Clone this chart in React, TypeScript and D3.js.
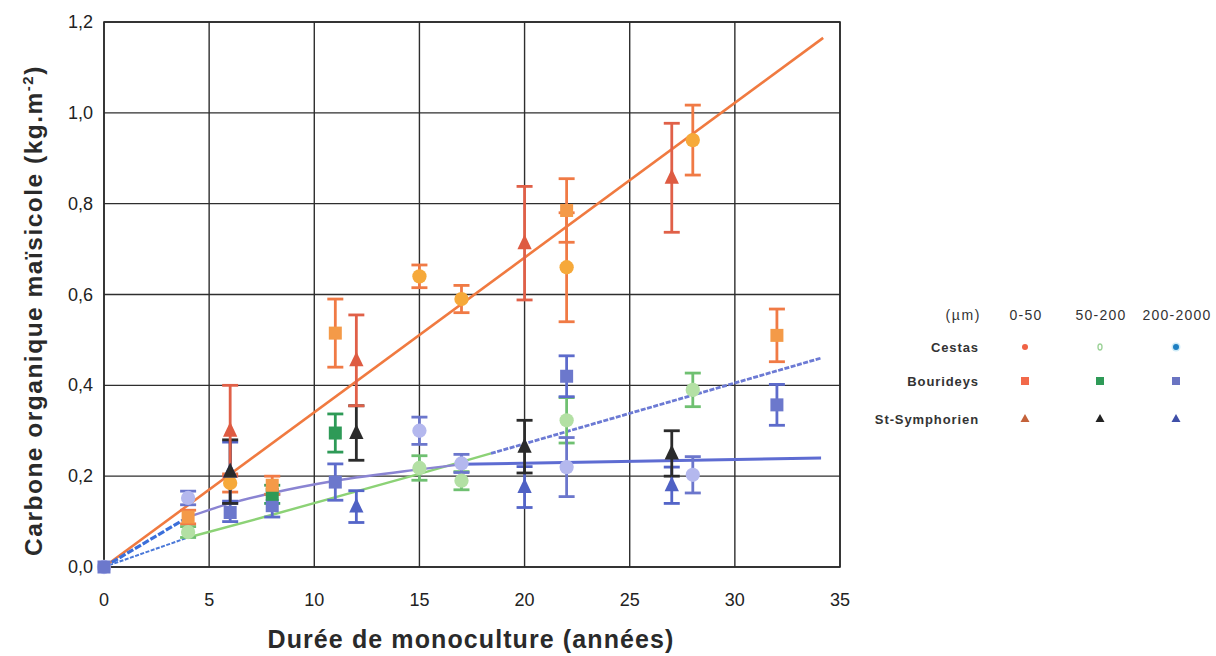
import React from "react";
import * as d3 from "d3";

// ---------- data ----------
const xTicks = [0, 5, 10, 15, 20, 25, 30, 35];
const yTicks = [0, 0.2, 0.4, 0.6, 0.8, 1.0, 1.2];
const sizeClasses = ["0-50", "50-200", "200-2000"];
const sites = ["Cestas", "Bourideys", "St-Symphorien"];

// [year, value, error]
const cestas050 = [[6, 0.185, 0.02], [15, 0.64, 0.025], [17, 0.59, 0.03], [22, 0.66, 0.12], [28, 0.94, 0.077]];
const bourideys050 = [[4, 0.11, 0.015], [8, 0.18, 0.02], [11, 0.515, 0.075], [22, 0.785, 0.07], [32, 0.51, 0.058]];
const stsym050 = [[6, 0.30, 0.1], [12, 0.455, 0.1], [20, 0.713, 0.125], [27, 0.857, 0.12]];
const cestas50200 = [[4, 0.077, 0.012], [15, 0.218, 0.027], [17, 0.19, 0.02], [22, 0.323, 0.05], [28, 0.39, 0.037]];
const bourideys50200 = [[8, 0.16, 0.02], [11, 0.295, 0.042]];
const stsym50200 = [[6, 0.21, 0.07], [12, 0.295, 0.06], [20, 0.265, 0.058], [27, 0.25, 0.05]];
const cestas2002000 = [[0, 0.0, 0.0], [4, 0.152, 0.015], [15, 0.30, 0.03], [17, 0.228, 0.02], [22, 0.22, 0.065], [28, 0.203, 0.04]];
const bourideys2002000 = [[0, 0.0, 0.0], [6, 0.12, 0.02], [8, 0.135, 0.025], [11, 0.187, 0.04], [22, 0.42, 0.045], [32, 0.357, 0.045]];
const stsym2002000 = [[6, 0.21, 0.065], [12, 0.133, 0.035], [20, 0.176, 0.045], [27, 0.18, 0.04]];

// trend lines [year, value]
const trend050 = [[0, 0], [34.2, 1.165]];
const trend50200Origin = [[0, 0], [4, 0.065]];
const trend50200Green = [[4, 0.065], [8, 0.115], [15, 0.205], [18.4, 0.25]];
const trend50200Blue = [[18.4, 0.25], [34.1, 0.46]];
const trend2002000Origin = [[0, 0], [4, 0.11]];
const trend2002000Purple = [[4, 0.11], [6, 0.14], [8, 0.163], [11, 0.19], [15, 0.215], [17, 0.226]];
const trend2002000Blue = [[17, 0.226], [34.1, 0.24]];

// ---------- layout / style ----------
const W = 1216, H = 656;
const PL = 104, PR = 840, PT = 22, PB = 567;
const FONT = "'Liberation Sans', Arial, Helvetica, sans-serif";

type Series = { data: number[][]; shape: "circle" | "square" | "triangle"; fill: string; err: string };

const series: Series[] = [
  { data: cestas50200, shape: "circle", fill: "#B3E0A4", err: "#6FC071" },
  { data: cestas2002000, shape: "circle", fill: "#B4B8EE", err: "#6B76CC" },
  { data: bourideys2002000, shape: "square", fill: "#6C78CC", err: "#5D6BCB" },
  { data: bourideys50200, shape: "square", fill: "#2E9A57", err: "#2E9A57" },
  { data: bourideys050, shape: "square", fill: "#F49A48", err: "#F07A45" },
  { data: cestas050, shape: "circle", fill: "#F6A93A", err: "#F07A45" },
  { data: stsym2002000, shape: "triangle", fill: "#4F61C4", err: "#5465C8" },
  { data: stsym50200, shape: "triangle", fill: "#2B2B2B", err: "#2B2B2B" },
  { data: stsym050, shape: "triangle", fill: "#DE5B42", err: "#E06048" },
];

function Marker({ shape, x, y, fill, size }: { shape: string; x: number; y: number; fill: string; size: number }) {
  if (shape === "circle") return <circle cx={x} cy={y} r={size * 0.55} fill={fill} />;
  if (shape === "square") return <rect x={x - size / 2} y={y - size / 2} width={size} height={size} fill={fill} />;
  const h = size * 1.15;
  return <path d={`M${x},${y - h * 0.6}L${x + size * 0.55},${y + h * 0.4}L${x - size * 0.55},${y + h * 0.4}Z`} fill={fill} />;
}

export default function App() {
  const x = d3.scaleLinear().domain([0, 35]).range([PL, PR]);
  const y = d3.scaleLinear().domain([0, 1.2]).range([PB, PT]);
  const straight = d3.line<number[]>().x(d => x(d[0])).y(d => y(d[1]));
  const smooth = d3.line<number[]>().x(d => x(d[0])).y(d => y(d[1])).curve(d3.curveMonotoneX);
  const fmt = (v: number) => v.toFixed(1).replace(".", ",");

  const legX = [1025, 1100, 1176];
  const legY = [347, 381, 419];
  const legendMarks = [
    [{ s: "circle", f: "#F06245" }, { s: "ring", f: "#9ED39A" }, { s: "dot", f: "#1E7FC2" }],
    [{ s: "square", f: "#F2694A" }, { s: "square", f: "#2E9A57" }, { s: "square", f: "#6A74C2" }],
    [{ s: "triangle", f: "#C4623A" }, { s: "triangle", f: "#222" }, { s: "triangle", f: "#3F4FA8" }],
  ];

  return (
    <svg width={W} height={H} style={{ position: "absolute", left: 0, top: 0, background: "#fff" }} fontFamily={FONT}>
      {/* grid */}
      {xTicks.map(t => (
        <line key={"gx" + t} x1={x(t)} x2={x(t)} y1={PT} y2={PB} stroke="#2e2e2e" strokeWidth={1.4} />
      ))}
      {yTicks.map(t => (
        <line key={"gy" + t} x1={PL} x2={PR} y1={y(t)} y2={y(t)} stroke="#2e2e2e" strokeWidth={1.4} />
      ))}
      <rect x={PL} y={PT} width={PR - PL} height={PB - PT} fill="none" stroke="#2a2a2a" strokeWidth={1.6} />

      {/* tick labels */}
      {xTicks.map(t => (
        <text key={"xl" + t} x={x(t)} y={PB + 39} textAnchor="middle" fontSize={18} fill="#222">{t}</text>
      ))}
      {yTicks.map(t => (
        <text key={"yl" + t} x={PL - 11} y={y(t) + 6} textAnchor="end" fontSize={18} fill="#222">{fmt(t)}</text>
      ))}

      {/* axis titles */}
      <text x={471} y={648} textAnchor="middle" fontSize={25} fontWeight="bold" fill="#2a2a2a" letterSpacing={1.1}>
        Durée de monoculture (années)
      </text>
      <text transform={`translate(42,${(PT + PB) / 2 + 16}) rotate(-90)`} textAnchor="middle" fontSize={24.5} fontWeight="bold" fill="#2a2a2a" letterSpacing={1.5}>
        Carbone organique maïsicole (kg.m<tspan dy={-9} fontSize={15}>-2</tspan><tspan dy={9}>)</tspan>
      </text>

      {/* trend lines */}
      <path d={straight(trend050)!} fill="none" stroke="#F07A40" strokeWidth={2.6} />
      <path d={straight(trend50200Origin)!} fill="none" stroke="#4A78D8" strokeWidth={2} strokeDasharray="4 1.5" />
      <path d={smooth(trend50200Green)!} fill="none" stroke="#8CD276" strokeWidth={2.4} />
      <path d={straight(trend50200Blue)!} fill="none" stroke="#6C7AD4" strokeWidth={2.8} strokeDasharray="5 1.5" />
      <path d={straight(trend2002000Origin)!} fill="none" stroke="#3B6FDA" strokeWidth={3.2} strokeDasharray="7 2" />
      <path d={smooth(trend2002000Purple)!} fill="none" stroke="#8A84D2" strokeWidth={2.4} />
      <path d={straight(trend2002000Blue)!} fill="none" stroke="#5E6CD2" strokeWidth={3} />

      {/* error bars */}
      {series.map((s, i) => s.data.filter(d => d[2] > 0).map((d, j) => {
        const cx = x(d[0]), y1 = y(d[1] + d[2]), y2 = y(d[1] - d[2]);
        return (
          <g key={`e${i}-${j}`} stroke={s.err} strokeWidth={2.8}>
            <line x1={cx} x2={cx} y1={y1} y2={y2} />
            <line x1={cx - 8} x2={cx + 8} y1={y1} y2={y1} />
            <line x1={cx - 8} x2={cx + 8} y1={y2} y2={y2} />
          </g>
        );
      }))}

      {/* markers */}
      {series.map((s, i) => s.data.map((d, j) => (
        <Marker key={`m${i}-${j}`} shape={s.shape} x={x(d[0])} y={y(d[1])} fill={s.fill} size={13} />
      )))}

      {/* legend */}
      <text x={981} y={320} textAnchor="end" fontSize={14} fill="#333" letterSpacing={1.6}>(µm)</text>
      {sizeClasses.map((c, i) => (
        <text key={"lc" + c} x={legX[i] + 1} y={320} textAnchor="middle" fontSize={14} fill="#333" letterSpacing={1.2}>{c}</text>
      ))}
      {sites.map((s, r) => (
        <text key={"ls" + s} x={979} y={legY[r] + 5} textAnchor="end" fontSize={13} fontWeight="bold" fill="#333" letterSpacing={0.9}>{s}</text>
      ))}
      {legendMarks.map((row, r) => row.map((m, c) => {
        const cx = legX[c], cy = legY[r];
        if (m.s === "circle") return <circle key={`lm${r}${c}`} cx={cx} cy={cy} r={3} fill={m.f} />;
        if (m.s === "ring") return <ellipse key={`lm${r}${c}`} cx={cx} cy={cy} rx={2} ry={3} fill="none" stroke={m.f} strokeWidth={1.4} />;
        if (m.s === "dot") return <g key={`lm${r}${c}`}><circle cx={cx} cy={cy} r={4.5} fill="#CDEBF7" /><circle cx={cx} cy={cy} r={3} fill={m.f} /></g>;
        if (m.s === "square") return <rect key={`lm${r}${c}`} x={cx - 4} y={cy - 4} width={8} height={8} fill={m.f} />;
        return <path key={`lm${r}${c}`} d={`M${cx},${cy - 5}L${cx + 4.5},${cy + 3}L${cx - 4.5},${cy + 3}Z`} fill={m.f} />;
      }))}
    </svg>
  );
}
